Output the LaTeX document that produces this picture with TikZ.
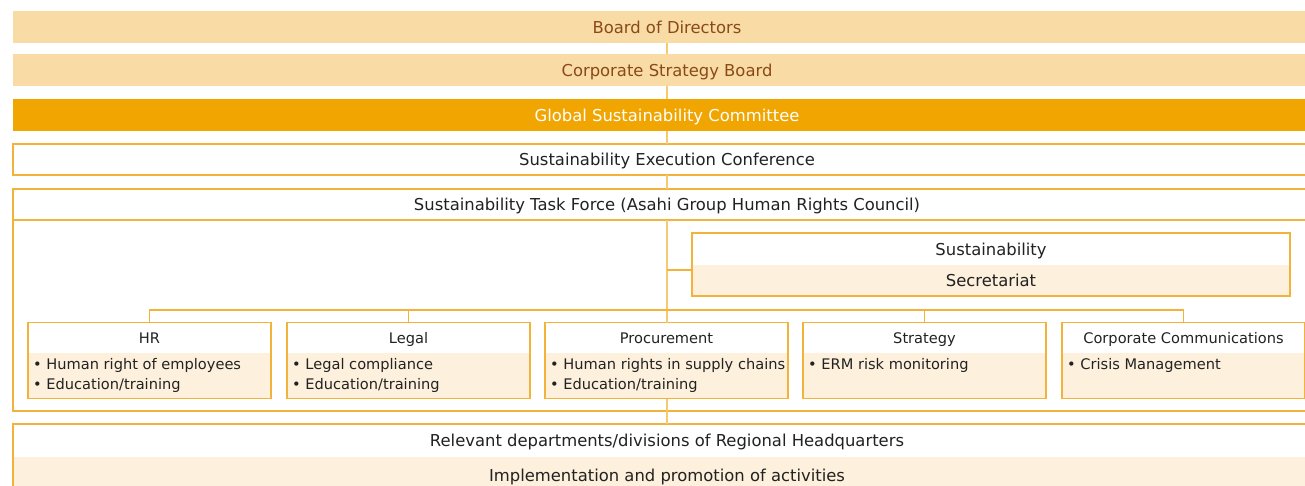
\documentclass[tikz,border=0pt]{standalone}
\usepackage{fontspec}
\setmainfont{DejaVu Sans}
\usetikzlibrary{calc}
\definecolor{barlight}{HTML}{F9DBA5}
\definecolor{barorange}{HTML}{F0A500}
\definecolor{beige}{HTML}{FDF0DC}
\definecolor{edge}{HTML}{F3B23A}
\definecolor{conn}{HTML}{F7C970}
\definecolor{brownt}{HTML}{8A4A17}
\definecolor{txt}{HTML}{222222}
\newcommand\deptbox[3]{%
  \node[dhead] (#1h) at (#2,322.7) {#3};
  \node[dbody] (#1b) at (#2,352.7) {};
  \node[dframe] (#1) at (#2,322.7) {};}
\begin{document}
\begin{tikzpicture}[x=1pt,y=-1pt,
  font=\fontsize{14.6}{20}\selectfont, text=txt,
  big/.style={font=\fontsize{16.4}{20}\selectfont, text height=12.2, text depth=0},
  bar/.style={anchor=north west, minimum width=1308, minimum height=32, inner sep=0, outer sep=0, big},
  frame/.style={draw=edge, line width=1.2pt},
  dhead/.style={anchor=north west, minimum width=243, minimum height=30, inner sep=0, outer sep=0, fill=white, text height=10.8, text depth=0},
  dbody/.style={anchor=north west, minimum width=243, minimum height=46, inner sep=0, outer sep=0, fill=beige},
  dframe/.style={anchor=north west, minimum width=243, minimum height=76, inner sep=0, outer sep=0, frame},
  bul/.style={anchor=base west, inner sep=0},
  vline/.style={draw=conn, line width=2pt},
  hline/.style={draw=edge, line width=1.2pt}]
\useasboundingbox (0,0) rectangle (1305,486);
\clip (0,0) rectangle (1305,486);

% top bars
\node[bar, fill=barlight, text=brownt] (board) at (13,11) {Board of Directors};
\node[bar, fill=barlight, text=brownt] (csb) at (13,54) {Corporate Strategy Board};
\node[bar, fill=barorange, text=white] (gsc) at (13,99) {Global Sustainability Committee};
\node[bar, fill=white, frame, minimum height=31] (exec) at (13,144) {Sustainability Execution Conference};

% task force
\node[bar, fill=white, frame, minimum height=222] (tf) at (13,189) {};
\node[bar, fill=white, frame, minimum height=31] (tfh) at (13,189) {Sustainability Task Force (Asahi Group Human Rights Council)};

% secretariat
\node[anchor=north west, minimum width=598, minimum height=32, inner sep=0, outer sep=0, fill=white, big] (sect) at (692,233) {Sustainability};
\node[anchor=north west, minimum width=598, minimum height=31, inner sep=0, outer sep=0, fill=beige, big] (secb) at (692,265) {Secretariat};
\node[anchor=north west, minimum width=598, minimum height=63, inner sep=0, outer sep=0, frame] (sec) at (692,233) {};

% departments
\deptbox{hr}{28}{HR}
\deptbox{legal}{287}{Legal}
\deptbox{proc}{545}{Procurement}
\deptbox{strat}{803}{Strategy}
\deptbox{cc}{1062}{Corporate Communications}

\node[bul] (hr1) at (33,369) {•\ Human right of employees};
\node[bul] (hr2) at (33,389) {•\ Education/training};
\node[bul] (lg1) at (292,369) {•\ Legal compliance};
\node[bul] (lg2) at (292,389) {•\ Education/training};
\node[bul] (pr1) at (550,369) {•\ Human rights in supply chains};
\node[bul] (pr2) at (550,389) {•\ Education/training};
\node[bul] (st1) at (808,369) {•\ ERM risk monitoring};
\node[bul] (cc1) at (1067,369) {•\ Crisis Management};

% regional headquarters
\node[bar, fill=white, minimum height=33] (relh) at (13,424) {Relevant departments/divisions of Regional Headquarters};
\node[bar, fill=beige, minimum height=36] (relb) at (13,457) {Implementation and promotion of activities};
\node[bar, frame, minimum height=69] (rel) at (13,424) {};

% connectors
\draw[vline] (board.south) -- (csb.north);
\draw[vline] (csb.south) -- (gsc.north);
\draw[vline] (gsc.south) -- (exec.north);
\draw[vline] (exec.south) -- (tfh.north);
\draw[vline] (tfh.south) -- (tfh.south |- proc.north);
\draw[vline] (tfh.south |- proc.south) -- (tf.south);
\draw[vline] (tf.south) -- (rel.north);

\coordinate (secin) at (692,270);
\draw[hline] (secin) -- (secin -| tf.south);

\coordinate (bus) at (667,310);
\draw[hline] (hr.north) |- (bus) -| (cc.north);
\draw[hline] (legal.north) -- (legal.north |- bus);
\draw[hline] (strat.north) -- (strat.north |- bus);
\end{tikzpicture}
\end{document}
